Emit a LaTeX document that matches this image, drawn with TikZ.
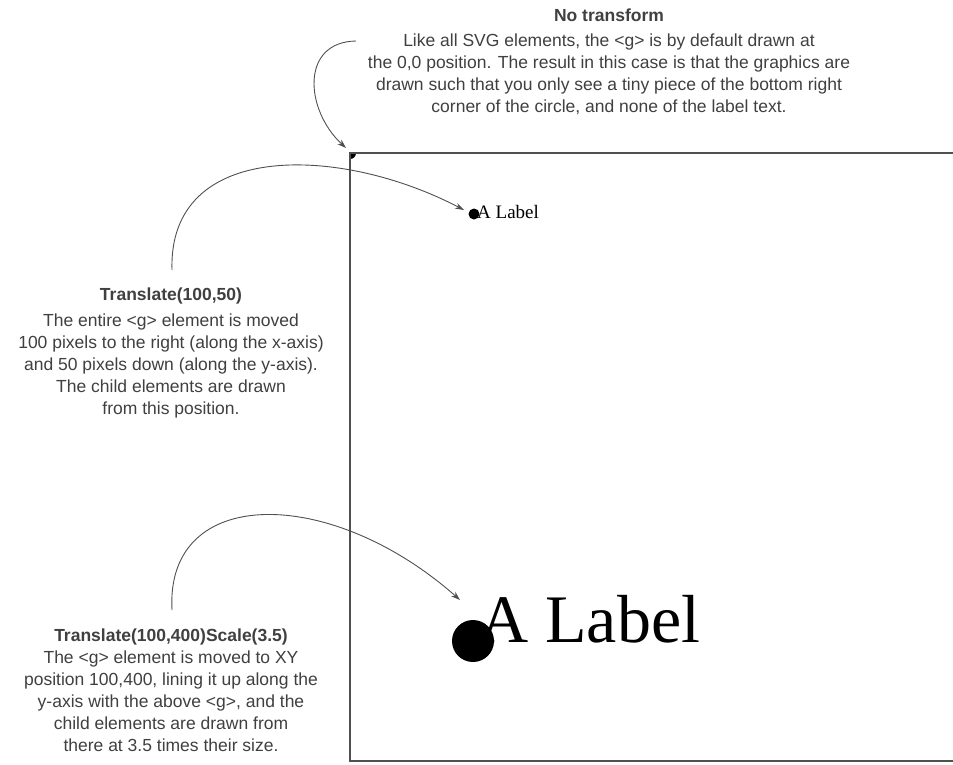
\documentclass[tikz,border=0pt]{standalone}
\usepackage{fontspec}
\setmainfont{Liberation Sans}
\newfontfamily\timesfont{Liberation Serif}
\usetikzlibrary{arrows.meta}
\definecolor{txt}{HTML}{404040}
\definecolor{ln}{HTML}{505050}
\tikzset{
  note/.style={align=center, text=txt, inner sep=0pt, anchor=north,
    font=\fontsize{17.5}{21.9}\selectfont},
  callout/.style={draw=ln, line width=0.9pt, -{Stealth[length=9pt,width=6pt]}},
  frame/.style={draw=ln, line width=1.4pt},
  dot/.style={circle, fill=black, inner sep=0pt}
}
\begin{document}
\begin{tikzpicture}[x=1pt,y=-1pt]
\useasboundingbox (0,0) rectangle (953,764);
\fill[white] (0,0) rectangle (953,764);
% frame
\begin{scope}
\clip (350,153) rectangle (953,761);
\node[dot, minimum size=12pt] (d0) at (350,153) {};
\end{scope}
\draw[frame] (953,153) -- (350,153) -- (350,761) -- (953,761);
% small label
\node[dot, minimum size=11pt] (d1) at (474,214) {};
\node[anchor=base west, inner sep=0pt, font=\timesfont\fontsize{19}{20}\selectfont] (l1) at (477,218) {A Label};
% large label
\node[dot, minimum size=42pt] (d2) at (473,641) {};
\node[anchor=base west, inner sep=0pt, font=\timesfont\fontsize{68}{70}\selectfont] (l2) at (479,642) {A Label};
% notes
\node[note] (n0) at (609,9) {\textbf{No transform}\\[3pt]Like all SVG elements, the <g> is by default drawn at\\the 0,0 position. The result in this case is that the graphics are\\drawn such that you only see a tiny piece of the bottom right\\corner of the circle, and none of the label text.};
\node[note] (n1) at (171,288) {\textbf{Translate(100,50)}\\[4pt]The entire <g> element is moved\\100 pixels to the right (along the x-axis)\\and 50 pixels down (along the y-axis).\\The child elements are drawn\\from this position.};
\node[note] (n2) at (171,629) {\textbf{Translate(100,400)Scale(3.5)}\\The <g> element is moved to XY\\position 100,400, lining it up along the\\y-axis with the above <g>, and the\\child elements are drawn from\\there at 3.5 times their size.};
% connector start points
\coordinate (s0) at (356,41);
\coordinate (s1) at (172,270);
\coordinate (s2) at (172,610);
\coordinate (e0) at (346,148);
\coordinate (e1) at (464,210);
\coordinate (e2) at (460,600);
\draw[callout] (s0) .. controls (300,42) and (305,110) .. (e0);
\draw[callout] (s1) .. controls (168,140) and (340,145) .. (e1);
\draw[callout] (s2) .. controls (165,485) and (330,485) .. (e2);
\end{tikzpicture}
\end{document}
